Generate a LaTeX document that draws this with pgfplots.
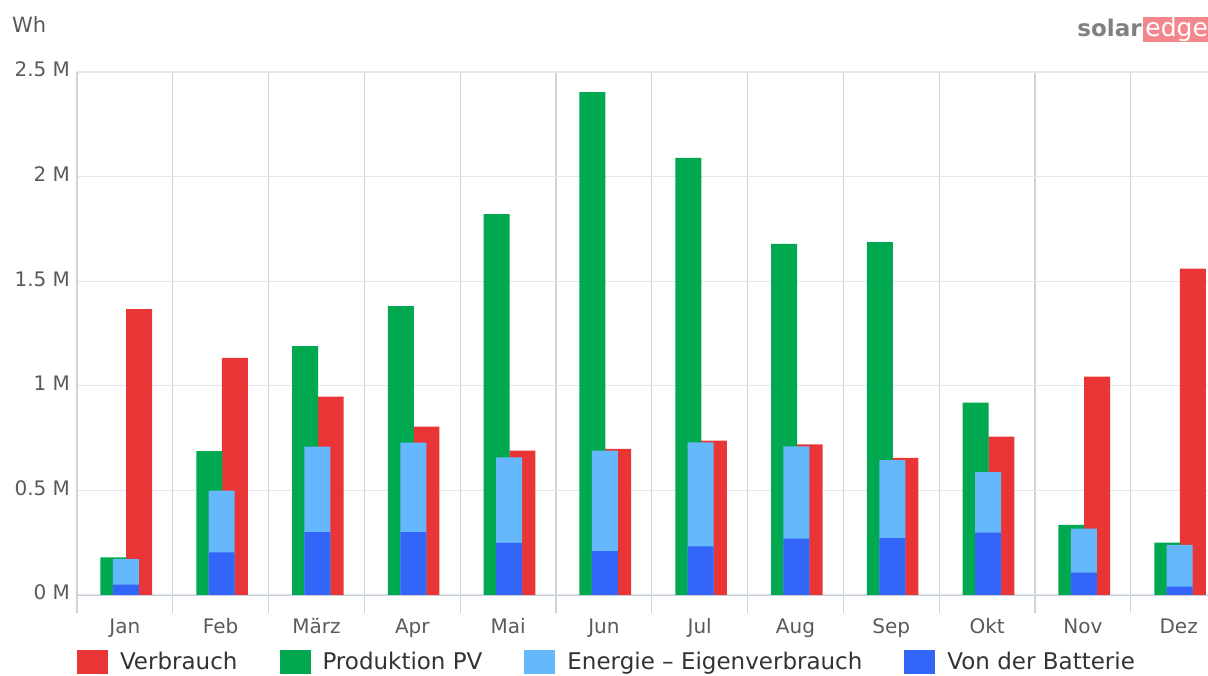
\documentclass[border=0pt]{standalone}
\usepackage{pgfplots}
\pgfplotsset{compat=1.18}
\usepackage{fontspec}
\setmainfont{DejaVu Sans}

\definecolor{verbrauch}{HTML}{E93535}
\definecolor{produktion}{HTML}{00A84F}
\definecolor{eigen}{HTML}{66B8FC}
\definecolor{batterie}{HTML}{3366F8}
\definecolor{hgrid}{HTML}{E2E7ED}
\definecolor{vgrid}{HTML}{CFD3D8}
\definecolor{baseline}{HTML}{C3CEDA}
\definecolor{tickgray}{HTML}{5A5A5A}
\definecolor{legtext}{HTML}{333333}
\definecolor{logogray}{HTML}{808080}
\definecolor{logopink}{HTML}{F4878C}

% values in MWh (axis shows "M" Wh)
\pgfplotstableread{
x verbrauch produktion eigen batterie
0  1.367 0.180 0.172 0.050
1  1.133 0.688 0.499 0.204
2  0.948 1.190 0.709 0.300
3  0.805 1.381 0.728 0.300
4  0.690 1.821 0.658 0.249
5  0.698 2.404 0.690 0.210
6  0.738 2.089 0.730 0.232
7  0.720 1.678 0.710 0.270
8  0.655 1.687 0.645 0.272
9  0.757 0.919 0.587 0.298
10 1.044 0.335 0.317 0.107
11 1.560 0.250 0.240 0.040
}\monthly

\begin{document}
\begin{tikzpicture}
\path[use as bounding box] (0bp,0bp) rectangle (604bp,338bp);
\begin{axis}[
    at={(38.5bp,40.5bp)}, anchor=south west,
    scale only axis,
    width=565.5bp, height=261.5bp,
    xmin=-0.5, xmax=11.306,
    ymin=0, ymax=2.5,
    ybar, bar width=13bp,
    axis x line*=bottom,
    axis y line*=left,
    x axis line style={draw=baseline},
    y axis line style={draw=vgrid},
    xtick={0,...,11},
    xticklabels={Jan,Feb,März,Apr,Mai,Jun,Jul,Aug,Sep,Okt,Nov,Dez},
    minor xtick={-0.5,0.5,...,11.5},
    xminorgrids=true,
    ymajorgrids=true,
    ytick={0,0.5,...,2.5},
    yticklabels={0 M,0.5 M,1 M,1.5 M,2 M,2.5 M},
    major tick length=0pt,
    minor tick length=9bp,
    tick align=outside,
    minor tick style={draw=vgrid, line width=0.6bp},
    minor grid style={draw=vgrid, line width=0.6bp},
    major grid style={draw=hgrid, line width=0.6bp},
    typeset ticklabels with strut,
    tick label style={font=\fontsize{10bp}{12bp}\selectfont, text=tickgray},
    xticklabel style={yshift=-7.5bp},
    legend columns=4,
    legend cell align=left,
    legend style={
        at={(0,-0.128)}, anchor=west,
        draw=none, fill=none,
        inner sep=0pt, outer sep=0pt,
        nodes={inner sep=0pt},
        font=\fontsize{11.5bp}{13bp}\selectfont,
        text=legtext,
        /tikz/every odd column/.append style={column sep=6bp},
        /tikz/every even column/.append style={column sep=21bp},
    },
    legend image code/.code={\fill[#1] (0bp,-6bp) rectangle (15.5bp,6bp);},
]
\addplot[fill=verbrauch, draw=none, bar shift=7.1bp]
    table[x=x, y=verbrauch] {\monthly};
\addplot[fill=produktion, draw=none, bar shift=-5.7bp]
    table[x=x, y=produktion] {\monthly};
\addplot[fill=eigen, draw=none, bar shift=0.5bp]
    table[x=x, y=eigen] {\monthly};
\addplot[fill=batterie, draw=none, bar shift=0.5bp]
    table[x=x, y=batterie] {\monthly};
\legend{Verbrauch, Produktion PV, Energie -- Eigenverbrauch, Von der Batterie}
\end{axis}

\node[anchor=west, font=\fontsize{10.5bp}{12bp}\selectfont, text=tickgray]
    at (2.5bp,325.5bp) {Wh};
\fill[logopink] (571.5bp,317bp) rectangle (604bp,329.5bp);
\node[anchor=base east, font=\bfseries\fontsize{11.5bp}{13bp}\selectfont, text=logogray, inner sep=0pt]
    at (571bp,319.5bp) {solar};
\node[anchor=base west, font=\fontsize{12.5bp}{14bp}\selectfont, text=white, inner sep=0pt]
    at (572.5bp,319.5bp) {edge};
\end{tikzpicture}
\end{document}
